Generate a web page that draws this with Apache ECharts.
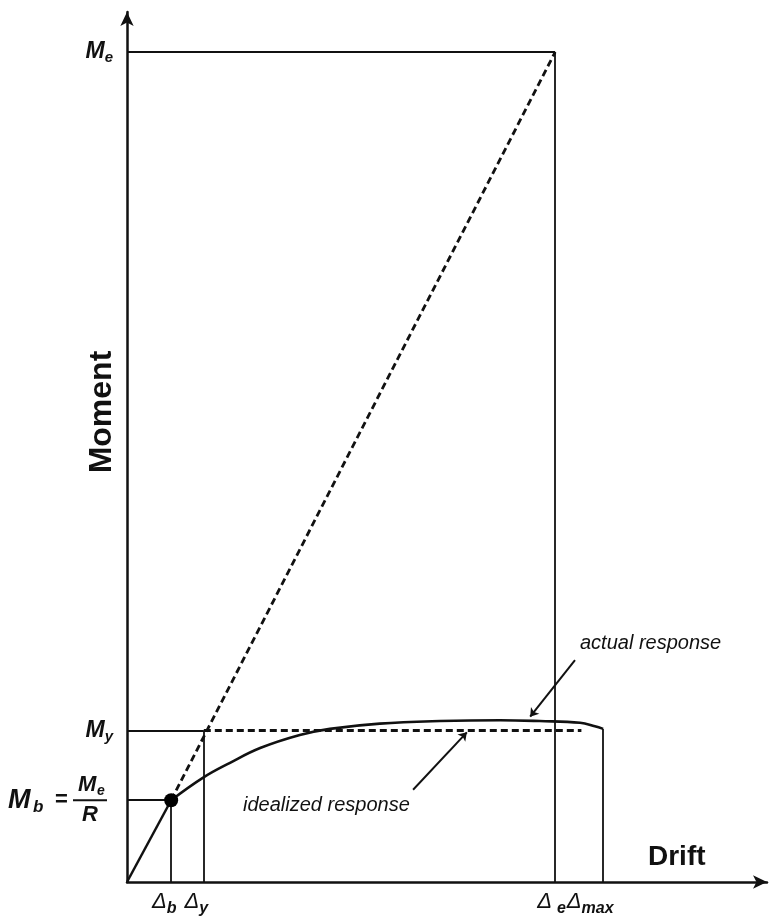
<!DOCTYPE html>
<html>
<head>
<meta charset="utf-8">
<script src="https://cdn.jsdelivr.net/npm/echarts@6/dist/echarts.min.js"></script>
<style>
  html, body { margin: 0; padding: 0; background: #fff; }
  #main { width: 774px; height: 923px; }
</style>
</head>
<body>
<div id="main"></div>
<script>
/* 数据部分：位移（Drift）与弯矩（Moment）的特征值 */
// x 轴特征位移：Δb, Δy, Δe, Δmax
const DRIFT_KEYS = ['b', 'y', 'e', 'max'];
const DRIFT_VALUES = [0.69, 1.20, 6.69, 7.44];
// y 轴特征弯矩：Mb, My, Me
const MOMENT_KEYS = ['b', 'y', 'e'];
const MOMENT_VALUES = [0.94, 1.74, 9.54];

// 实际响应曲线（从 Δb 开始）
const ACTUAL_X = [0.69, 1.19, 1.61, 2.08, 2.70, 3.17, 3.95, 4.89, 5.83, 6.45, 7.08, 7.31, 7.44];
const ACTUAL_Y = [0.94, 1.20, 1.37, 1.54, 1.69, 1.76, 1.82, 1.85, 1.86, 1.85, 1.83, 1.79, 1.76];

// 理想化平台段的终点
const IDEAL_END = 7.1;

// 注释箭头 [起点, 终点]
const ACTUAL_ARROW = [[7.0, 2.55], [6.30, 1.90]];
const IDEAL_ARROW = [[4.47, 1.06], [5.31, 1.72]];

const FONT = '"Liberation Sans", Arial, Helvetica, sans-serif';
const INK = '#111';

let Db = DRIFT_VALUES[0], Dy = DRIFT_VALUES[1], De = DRIFT_VALUES[2], Dmax = DRIFT_VALUES[3];
let Mb = MOMENT_VALUES[0], My = MOMENT_VALUES[1], Me = MOMENT_VALUES[2];

// 竖直参考线（从横轴到各点），在底端标注 Δ
let dropTops = [Mb, My, Me, ACTUAL_Y[ACTUAL_Y.length - 1]];
let dropSegs = DRIFT_VALUES.map(function (d, i) {
  return { name: DRIFT_KEYS[i], coords: [[d, 0], [d, dropTops[i]]] };
});
// 水平参考线
let levelSegs = [
  [[0, Me], [De, Me]],
  [[0, My], [Dy, My]],
  [[0, Mb], [Db, Mb]]
];
// 虚线：弹性延长线 + 理想化平台
let dashSegs = [
  [[Db, Mb], [De, Me]],
  [[Dy, My], [IDEAL_END, My]]
];

function nearestIndex(arr, v) {
  let best = 0;
  arr.forEach(function (a, i) { if (Math.abs(a - v) < Math.abs(arr[best] - v)) best = i; });
  return best;
}

// Δ 标签（居中于刻度，尾部留白使文字略偏左）
function driftLabel(params) {
  let k = params.name;
  return '{d|Δ}' + (k === 'e' ? '{g|}' : '') + '{s|' + k + '}{p' + k + '|}';
}

function momentLabel(value) {
  let k = MOMENT_KEYS[nearestIndex(MOMENT_VALUES, value)];
  if (k === 'b') {
    return '{fpad|}{fm|M}{fs|e}{fend|}\n' +
           '{mb|M}{mbs|b}{eq|=}{bar|}{fend2|}\n' +
           '{rpad|}{fr|R}{fend3|}';
  }
  return '{m|M}{s|' + k + '}';
}

const boldIt = { fontFamily: FONT, fontWeight: 'bold', fontStyle: 'italic', color: INK };

let option = {
  backgroundColor: '#fff',
  animation: false,
  grid: { left: 127, right: 7, top: 12, bottom: 41, containLabel: false, outerBoundsMode: 'none' },
  xAxis: {
    type: 'value', min: 0, max: 10,
    axisLine: { show: true, symbol: ['none', 'arrow'], symbolSize: [10, 14], lineStyle: { color: INK, width: 2.5 } },
    axisTick: { show: false },
    splitLine: { show: false },
    axisLabel: { show: false }
  },
  yAxis: {
    type: 'value', min: 0, max: 10,
    axisLine: { show: true, symbol: ['none', 'arrow'], symbolSize: [10, 14], lineStyle: { color: INK, width: 2.5 } },
    axisTick: { show: false },
    splitLine: { show: false },
    axisLabel: {
      customValues: MOMENT_VALUES,
      formatter: momentLabel,
      hideOverlap: false,
      margin: 14,
      rich: {
        m: Object.assign({}, boldIt, { fontSize: 23, lineHeight: 22 }),
        s: Object.assign({}, boldIt, { fontSize: 15, lineHeight: 22, padding: [12, 0, 0, 0] }),
        fpad: { width: 70, lineHeight: 20, align: 'left' },
        fm: Object.assign({}, boldIt, { fontSize: 22, width: 19, lineHeight: 20, align: 'left' }),
        fs: Object.assign({}, boldIt, { fontSize: 14, width: 10, lineHeight: 20, padding: [12, 0, 0, 0], align: 'left' }),
        fend: { width: 6, lineHeight: 20, align: 'left' },
        mb: Object.assign({}, boldIt, { fontSize: 27, width: 25, lineHeight: 10, align: 'left' }),
        mbs: Object.assign({}, boldIt, { fontSize: 17, width: 17, lineHeight: 10, padding: [15, 0, 0, 0], align: 'left' }),
        eq: { fontFamily: FONT, fontWeight: 'bold', fontSize: 22, color: INK, width: 23, lineHeight: 10, align: 'center' },
        bar: { width: 34, height: 2, lineHeight: 10, backgroundColor: INK, align: 'left' },
        fend2: { width: 6, lineHeight: 10, align: 'left' },
        rpad: { width: 65, lineHeight: 20, align: 'left' },
        fr: Object.assign({}, boldIt, { fontSize: 22, width: 34, lineHeight: 20, align: 'center' }),
        fend3: { width: 6, lineHeight: 20, align: 'center' }
      }
    }
  },
  graphic: [
    {
      type: 'text', x: 102, y: 412, rotation: Math.PI / 2,
      style: { text: 'Moment', font: 'bold 32px ' + FONT, fill: INK, textAlign: 'center', textVerticalAlign: 'middle' }
    },
    {
      type: 'text', x: 648, y: 857,
      style: { text: 'Drift', font: 'bold 28px ' + FONT, fill: INK, textAlign: 'left', textVerticalAlign: 'middle' }
    },
    {
      type: 'text', x: 580, y: 643,
      style: { text: 'actual response', font: 'italic 20px ' + FONT, fill: INK, textAlign: 'left', textVerticalAlign: 'middle' }
    },
    {
      type: 'text', x: 243, y: 805,
      style: { text: 'idealized response', font: 'italic 20px ' + FONT, fill: INK, textAlign: 'left', textVerticalAlign: 'middle' }
    }
  ],
  series: [
    {
      // 竖直参考线 + Δ 标签
      type: 'lines', coordinateSystem: 'cartesian2d', silent: true, clip: false,
      lineStyle: { color: INK, width: 1.8, opacity: 1 },
      label: {
        show: true,
        position: 'start',
        distance: 10,
        formatter: driftLabel,
        rich: {
          d: { fontFamily: FONT, fontStyle: 'italic', fontSize: 22, lineHeight: 20, color: INK },
          s: Object.assign({}, boldIt, { fontSize: 16, lineHeight: 20, padding: [14, 0, 0, 0] }),
          g: { width: 5, lineHeight: 20 },
          pb: { width: 14, lineHeight: 20 },
          py: { width: 15, lineHeight: 20 },
          pe: { width: 7, lineHeight: 20 },
          pmax: { width: 26, lineHeight: 20 }
        }
      },
      labelLayout: { hideOverlap: false },
      data: dropSegs
    },
    {
      // 水平参考线
      type: 'lines', coordinateSystem: 'cartesian2d', silent: true,
      lineStyle: { color: INK, width: 1.8, opacity: 1 },
      data: levelSegs.map(function (c) { return { coords: c }; })
    },
    {
      // 弹性段
      type: 'lines', coordinateSystem: 'cartesian2d', silent: true,
      lineStyle: { color: INK, width: 2.5, opacity: 1 },
      data: [{ coords: [[0, 0], [Db, Mb]] }]
    },
    {
      type: 'lines', coordinateSystem: 'cartesian2d', silent: true,
      lineStyle: { color: INK, width: 2.8, type: [7, 4], opacity: 1 },
      data: dashSegs.map(function (c) { return { coords: c }; })
    },
    {
      // 实际响应
      type: 'line', smooth: 0.4, symbol: 'none', silent: true,
      lineStyle: { color: INK, width: 2.6 },
      data: ACTUAL_X.map(function (x, i) { return [x, ACTUAL_Y[i]]; }),
      z: 3
    },
    {
      type: 'scatter', symbolSize: 14, silent: true,
      itemStyle: { color: '#000', opacity: 1 },
      data: [[Db, Mb]],
      z: 4
    },
    {
      // 注释箭头
      type: 'lines', coordinateSystem: 'cartesian2d', silent: true,
      symbol: ['none', 'arrow'], symbolSize: 8,
      lineStyle: { color: INK, width: 2, opacity: 1 },
      data: [{ coords: ACTUAL_ARROW }, { coords: IDEAL_ARROW }]
    }
  ]
};

let chart = echarts.init(document.getElementById('main'));
chart.setOption(option);
</script>
</body>
</html>
